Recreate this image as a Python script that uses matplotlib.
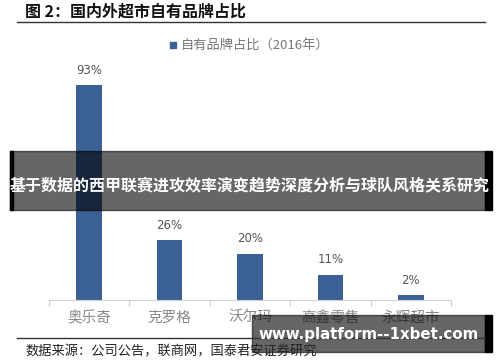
import matplotlib
matplotlib.use("Agg")
import matplotlib.pyplot as plt
from matplotlib.patches import Rectangle

plt.rcParams['font.family'] = ['Noto Sans CJK SC', 'DejaVu Sans']

# 数据
categories = ["奥乐奇", "克罗格", "沃尔玛", "高鑫零售", "永辉超市"]
values = [93, 26, 20, 11, 2]
value_labels = ["93%", "26%", "20%", "11%", "2%"]

W, H = 500, 362
fig = plt.figure(figsize=(W / 100, H / 100), dpi=100)

def fx(px):
    return px / W

def fy(py):
    # py measured from the top of the picture
    return 1 - py / H

bar_color = "#3a6096"

# axes for the bars: baseline at y=300, 100% -> 231 px
ax = fig.add_axes([fx(49), fy(300), fx(402), 231 / H])
x = list(range(len(categories)))
ax.bar(x, values, width=0.32, color=bar_color)
for xi, v, lab in zip(x, values, value_labels):
    ax.annotate(lab, (xi, v), xytext=(0, 6), textcoords="offset points",
                ha="center", va="bottom", fontsize=8.5, color="#555555",
                family="DejaVu Sans")
ax.set_xlim(-0.5, 4.5)
ax.set_ylim(0, 100)
ax.set_yticks([])
for s in ["top", "right", "left"]:
    ax.spines[s].set_visible(False)
ax.spines["bottom"].set_color("#d0d0d0")
ax.set_xticks([i - 0.5 for i in range(len(categories) + 1)])
ax.set_xticklabels([])
ax.tick_params(axis="x", direction="out", length=4, color="#d0d0d0")
for xi, c in zip(x, categories):
    ax.text(xi, -4.5, c, ha="center", va="top", fontsize=10.5, color="#888888")

# 标题和线
fig.text(fx(25), fy(12), "图 2：国内外超市自有品牌占比", fontsize=11.5,
         fontweight="bold", ha="left", va="center", color="#111111")
fig.add_artist(plt.Line2D([fx(17), fx(485)], [fy(22), fy(22)], color="#333333", lw=1.0))

# 图例
fig.add_artist(Rectangle((fx(170), fy(48)), fx(6), 6 / H, color=bar_color))
fig.text(fx(181), fy(45), "自有品牌占比（2016年）", fontsize=9.5, color="#777777",
         ha="left", va="center")

# 底部来源
fig.add_artist(plt.Line2D([fx(17), fx(485)], [fy(338), fy(338)], color="#333333", lw=1.0))
fig.text(fx(25), fy(352), "数据来源：公司公告，联商网，国泰君安证券研究", fontsize=9.5,
         ha="left", va="center", color="#222222")

# 覆盖横幅
fig.add_artist(Rectangle((fx(10), fy(210)), fx(475), 59 / H, color="black", alpha=0.6))
fig.add_artist(Rectangle((fx(485), fy(210)), fx(7), 59 / H, color="black"))
fig.add_artist(Rectangle((fx(10), fy(210)), fx(3), 59 / H, color="black"))
fig.text(fx(250), fy(185), "基于数据的西甲联赛进攻效率演变趋势深度分析与球队风格关系研究",
         fontsize=11.5, fontweight="bold", color="white", ha="center", va="center")

fig.add_artist(Rectangle((fx(252), fy(352)), fx(233), 37 / H, color="black", alpha=0.6))
fig.add_artist(Rectangle((fx(485), fy(352)), fx(7), 37 / H, color="black"))
fig.text(fx(369), fy(335), "www.platform--1xbet.com", fontsize=10.8,
         fontweight="bold", color="white", ha="center", va="center",
         family="DejaVu Sans")

fig.savefig("out.png", dpi=100)
